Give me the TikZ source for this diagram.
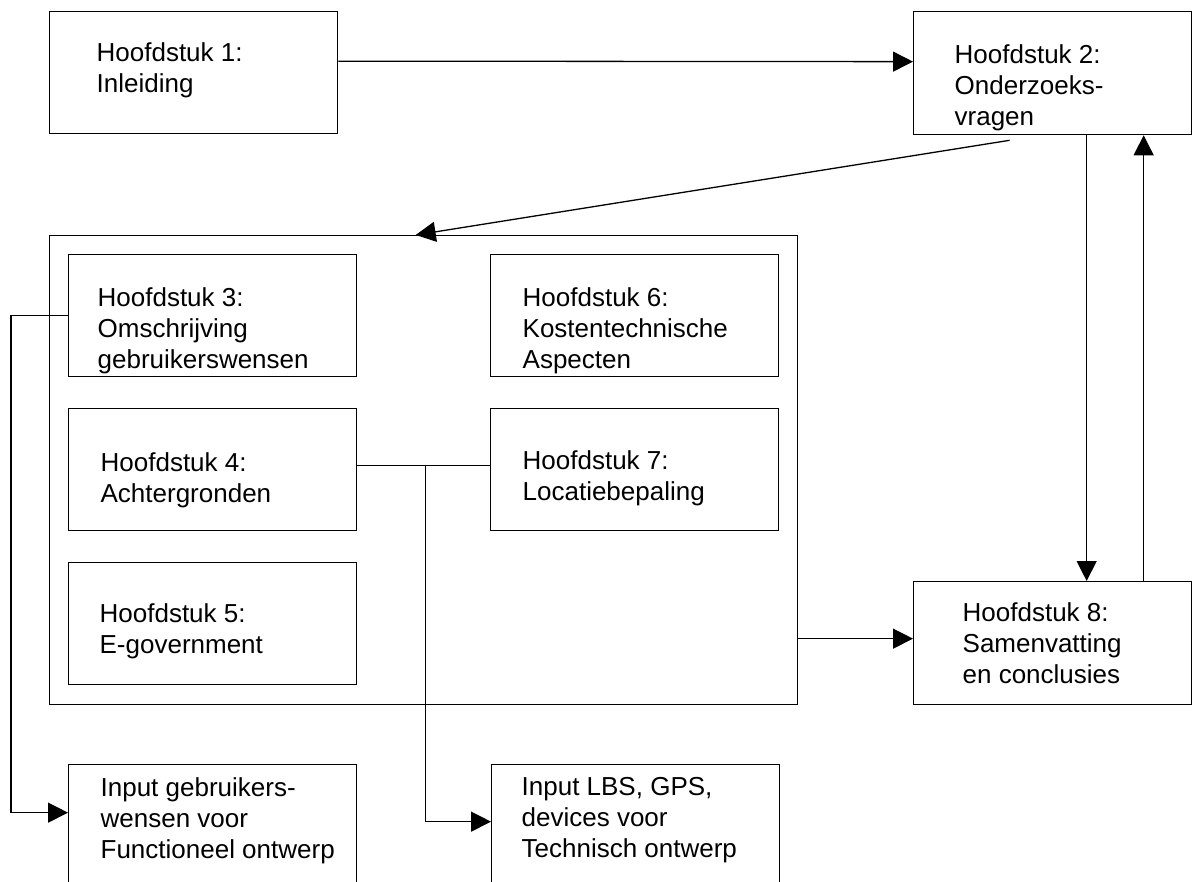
\documentclass[tikz,border=0pt]{standalone}
\usepackage{fontspec}
\setmainfont{Liberation Sans}
\usetikzlibrary{arrows.meta}

\tikzset{
  chap/.style={draw, rectangle, anchor=north west, inner sep=0pt,
               minimum width=288pt, minimum height=122pt},
  txt/.style={anchor=north west, inner sep=0pt, align=left,
              font=\fontsize{26}{31}\selectfont}
}

\begin{document}
\begin{tikzpicture} [x=1pt, y=-1pt, line width=1.3pt, >={Triangle[length=20pt, width=20pt]}]
\useasboundingbox (0,0) rectangle (1193,881);

\path (49,11) node[chap] (h1) {}
      (913,11) node[chap, minimum width=278pt, minimum height=123pt] (h2) {}
      (49,235) node[chap, minimum width=748pt, minimum height=469pt] (big) {}
      (68,254) node[chap] (h3) {}
      (490,254) node[chap] (h6) {}
      (68,408) node[chap] (h4) {}
      (490,408) node[chap] (h7) {}
      (68,562) node[chap] (h5) {}
      (913,581) node[chap, minimum width=278pt, minimum height=123pt] (h8) {}
      (68,764) node[chap, minimum height=150pt] (in1) {}
      (491,764) node[chap, minimum height=150pt] (in2) {};

\path (96,42) node[txt] (t1) {Hoofdstuk 1:\\Inleiding}
      (954,44) node[txt] (t2) {Hoofdstuk 2:\\Onderzoeks-\\vragen}
      (97,287) node[txt] (t3) {Hoofdstuk 3:\\Omschrijving\\gebruikerswensen}
      (522,287) node[txt] (t6) {Hoofdstuk 6:\\Kostentechnische\\Aspecten}
      (100,452) node[txt] (t4) {Hoofdstuk 4:\\Achtergronden}
      (522,450) node[txt] (t7) {Hoofdstuk 7:\\Locatiebepaling}
      (99,603) node[txt] (t5) {Hoofdstuk 5:\\E-government}
      (962,602) node[txt] (t8) {Hoofdstuk 8:\\Samenvatting\\en conclusies}
      (100,777) node[txt] (ti1) {Input gebruikers-\\wensen voor\\Functioneel ontwerp}
      (521,777) node[txt] (ti2) {Input LBS, GPS,\\devices voor\\Technisch ontwerp};

\coordinate (j8) at ([yshift=4.5pt]h8.west);
\coordinate (split) at ([xshift=68pt, yshift=4pt]h4.east);

\draw[->] ([yshift=11.5pt]h1.east) to ([yshift=11.5pt]h2.west);
\draw[->] ([xshift=-43pt, yshift=-5pt]h2.south) to ([xshift=-8pt]big.north);
\draw[->] ([xshift=34pt]h2.south) to ([xshift=34pt]h8.north);
\draw[->] ([xshift=91pt]h8.north) to ([xshift=91pt]h2.south);
\draw[->] (big.east |- j8) to (j8);
\draw[->] (h3.west) -- ++(-57,0) |- ([yshift=27pt]in1.west);
\draw ([yshift=4pt]h4.east) to ([yshift=4pt]h7.west);
\draw[->] (split) |- ([yshift=18pt]in2.west);

\end{tikzpicture}
\end{document}
